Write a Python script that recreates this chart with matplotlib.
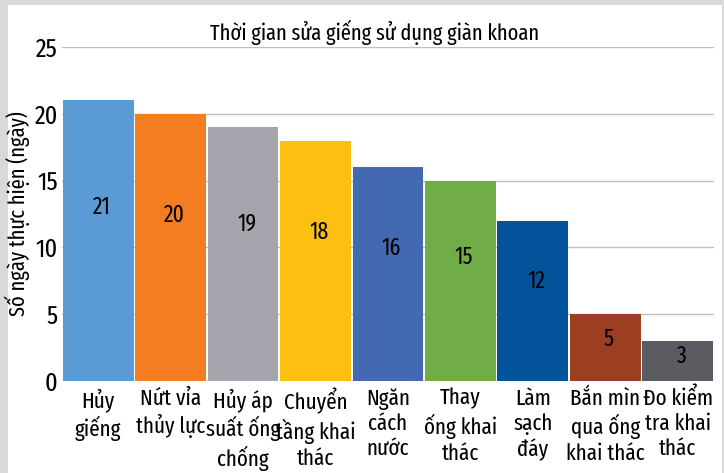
import matplotlib.pyplot as plt
from matplotlib.patches import Rectangle

plt.rcParams['font.family'] = ['Fira Sans Extra Condensed', 'Fira Sans Condensed', 'DejaVu Sans']

categories = ["Hủy\ngiếng", "Nứt vỉa\nthủy lực", "Hủy áp\nsuất ống\nchống",
              "Chuyển\ntầng khai\nthác", "Ngăn\ncách\nnước", "Thay\nống khai\nthác",
              "Làm\nsạch\nđáy", "Bắn mìn\nqua ống\nkhai thác", "Đo kiểm\ntra khai\nthác"]
values = [21, 20, 19, 18, 16, 15, 12, 5, 3]
colors = ["#5B9BD5", "#F47D22", "#A5A5AD", "#FDC010", "#4469B3",
          "#70AD47", "#03539A", "#9C3F20", "#5B5C61"]
yticks = [0, 5, 10, 15, 20, 25]

fig = plt.figure(figsize=(7.24, 4.73), dpi=100, facecolor="#D9D9D9")
# nền trắng bên trong khung xám
fig.patches.append(Rectangle((8 / 724, 0), 714 / 724, 1 - 5 / 473, transform=fig.transFigure,
                             zorder=-10, facecolor="white", edgecolor="none"))

ax = fig.add_axes([0.0856, 0.1945, 0.9004, 0.7061])
ax.patch.set_alpha(0)
x = range(len(values))
ax.bar(x, values, width=0.975, color=colors, zorder=3)

for i, v in enumerate(values):
    ax.text(i + 0.05, v * 0.62, str(v), ha="center", va="center",
            fontsize=17, color="black", zorder=4)

ax.set_xlim(-0.5, len(values) - 0.5)
ax.set_ylim(0, 25)
ax.set_yticks(yticks)
ax.set_yticklabels([str(t) for t in yticks], fontsize=19)
ax.set_xticks(list(x))
ax.set_xticklabels(categories, fontsize=16.5, linespacing=1.22, va="top")
ax.tick_params(length=0, pad=5)
ax.tick_params(axis="y", pad=3)
ax.grid(axis="y", color="#BFBFBF", linewidth=1, zorder=0)
for s in ax.spines.values():
    s.set_visible(False)

ax.set_ylabel("Số ngày thực hiện (ngày)", fontsize=16, labelpad=3)
ax.set_title("Thời gian sửa giếng sử dụng giàn khoan", fontsize=16, pad=5, x=0.48)

plt.savefig("out.png", dpi=100, facecolor=fig.get_facecolor())
